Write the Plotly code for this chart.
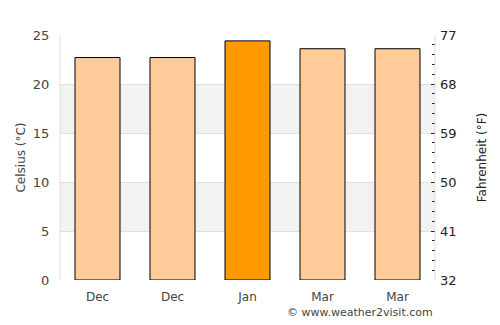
import plotly.graph_objects as go

months = ["Dec", "Dec", "Jan", "Mar", "Mar"]
temps_c = [22.7, 22.7, 24.4, 23.6, 23.6]
colors = ["#ffcc99", "#ffcc99", "#ff9900", "#ffcc99", "#ffcc99"]
left_ticks = [0, 5, 10, 15, 20, 25]
right_ticks = [32, 41, 50, 59, 68, 77]

x = list(range(len(months)))

fig = go.Figure()
fig.add_trace(go.Bar(
    x=x, y=temps_c, width=0.6,
    marker=dict(color=colors, line=dict(color="#000000", width=1)),
    hoverinfo="skip", showlegend=False,
))
# invisible trace for the right axis
fig.add_trace(go.Scatter(x=[x[0]], y=[right_ticks[0]], yaxis="y2", mode="markers",
                         marker=dict(opacity=0), showlegend=False, hoverinfo="skip"))

shapes = []
for lo, hi in [(5, 10), (15, 20)]:
    shapes.append(dict(type="rect", xref="paper", yref="y", x0=0, x1=1, y0=lo, y1=hi,
                       fillcolor="#f2f2f2", line=dict(width=0), layer="below"))
shapes.append(dict(type="line", xref="paper", yref="paper", x0=0, x1=0, y0=0, y1=1,
                   line=dict(color="#dddddd", width=1)))
shapes.append(dict(type="line", xref="paper", yref="paper", x0=1, x1=1, y0=0, y1=1,
                   line=dict(color="#dddddd", width=1)))

fig.update_layout(
    width=500, height=325,
    margin=dict(l=60, r=65, t=35, b=45),
    paper_bgcolor="white", plot_bgcolor="white",
    font=dict(family="DejaVu Sans", color="#444444", size=13),
    shapes=shapes,
    xaxis=dict(
        tickvals=x, ticktext=months, range=[-0.5, len(months) - 0.5],
        showgrid=False, zeroline=False, showline=False,
        ticks="outside", ticklen=6, tickcolor="rgba(0,0,0,0)",
        tickfont=dict(size=12),
    ),
    yaxis=dict(
        range=[0, 25], tickvals=left_ticks, showgrid=True, gridcolor="#e0e0e0",
        zeroline=False, showline=False,
        ticks="outside", ticklen=7, tickcolor="rgba(0,0,0,0)",
        title=dict(text="Celsius (°C)", font=dict(size=12), standoff=4),
        tickfont=dict(size=13),
    ),
    yaxis2=dict(
        range=[32, 77], tickvals=right_ticks, overlaying="y", side="right",
        showgrid=False, zeroline=False, showline=False,
        ticks="inside", ticklen=4, tickcolor="#222222",
        minor=dict(dtick=1.8, tick0=32, ticks="inside", ticklen=3, tickcolor="#222222"),
        ticklabelstandoff=4,
        title=dict(text="Fahrenheit (°F)", font=dict(size=12, color="#222222"), standoff=22),
        tickfont=dict(size=13, color="#222222"),
    ),
    annotations=[dict(text="© www.weather2visit.com", xref="paper", yref="paper",
                      x=1, y=0, xanchor="right", yanchor="top", yshift=-24,
                      showarrow=False, font=dict(size=11, color="#444444"))],
)

fig.write_html("out.html")
